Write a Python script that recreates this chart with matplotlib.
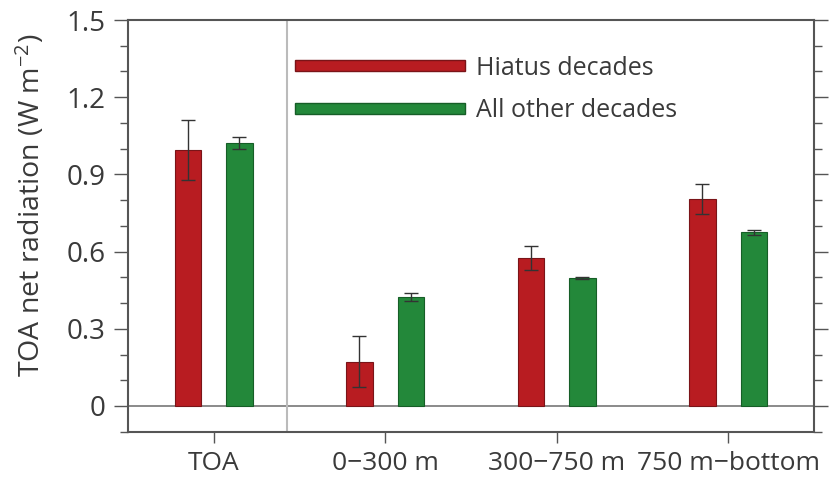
import numpy as np
import matplotlib.pyplot as plt
from matplotlib.patches import Patch
from matplotlib.ticker import MultipleLocator

plt.rcParams['font.family'] = ['Open Sans', 'DejaVu Sans']
plt.rcParams['mathtext.fontset'] = 'custom'
plt.rcParams['mathtext.rm'] = 'Open Sans'
plt.rcParams['mathtext.default'] = 'regular'

categories = ['TOA', '0\u2212300 m', '300\u2212750 m', '750 m\u2212bottom']
hiatus = [0.995, 0.172, 0.576, 0.805]
hiatus_err = [0.117, 0.10, 0.046, 0.057]
other = [1.021, 0.425, 0.496, 0.675]
other_err = [0.023, 0.016, 0.004, 0.009]
yticks = [0, 0.3, 0.6, 0.9, 1.2, 1.5]
yticklabels = ['0', '0.3', '0.6', '0.9', '1.2', '1.5']

red = '#b81c21'
green = '#23883a'
spine = '#555555'
txt = '#3a3a3a'

fig = plt.figure(figsize=(8.31, 4.8), dpi=100)
ax = fig.add_axes([0.154, 0.1006, 0.8255, 0.8577])

x = np.arange(len(categories))
w = 0.155
off = 0.15

ax.axhline(0, color='#777777', lw=1.2, zorder=1)
ax.axvline(0.425, color='#bbbbbb', lw=1.5, zorder=1)

ax.bar(x - off, hiatus, w, color=red, edgecolor='#7a1418', lw=0.8, zorder=2)
ax.bar(x + off, other, w, color=green, edgecolor='#165e27', lw=0.8, zorder=2)
ax.errorbar(x - off, hiatus, yerr=hiatus_err, fmt='none', ecolor='#333333',
            elinewidth=1, capsize=5, capthick=1, zorder=3)
ax.errorbar(x + off, other, yerr=other_err, fmt='none', ecolor='#333333',
            elinewidth=1, capsize=5, capthick=1, zorder=3)

ax.set_xlim(-0.5, 3.5)
ax.set_ylim(-0.1, 1.5)
ax.set_xticks(x)
ax.set_xticklabels(categories, fontsize=19, color=txt)
ax.set_yticks(yticks)
ax.set_yticklabels(yticklabels, fontsize=20, color=txt)
ax.yaxis.set_minor_locator(MultipleLocator(0.1))
ax.tick_params(axis='y', which='major', direction='out', length=10, width=1,
               color=spine, right=True, pad=6)
ax.tick_params(axis='y', which='minor', direction='out', length=6, width=1,
               color=spine, right=True)
ax.tick_params(axis='x', direction='out', length=8, width=1, color=spine, pad=6)

for s in ax.spines.values():
    s.set_color(spine)
    s.set_linewidth(1.5)

ax.set_ylabel('TOA net radiation (W m$^{-2}$)', fontsize=20.5, color=txt)
ax.yaxis.set_label_coords(-0.118, 0.551)

handles = [Patch(facecolor=red, edgecolor='#7a1418'),
           Patch(facecolor=green, edgecolor='#165e27')]
ax.legend(handles, ['Hiatus decades', 'All other decades'], loc='upper left',
          bbox_to_anchor=(0.21, 0.968), frameon=False, fontsize=18,
          handlelength=6.8, handleheight=0.3, handletextpad=0.45,
          labelspacing=0.7, labelcolor=txt)

fig.savefig('out.png', dpi=100)
